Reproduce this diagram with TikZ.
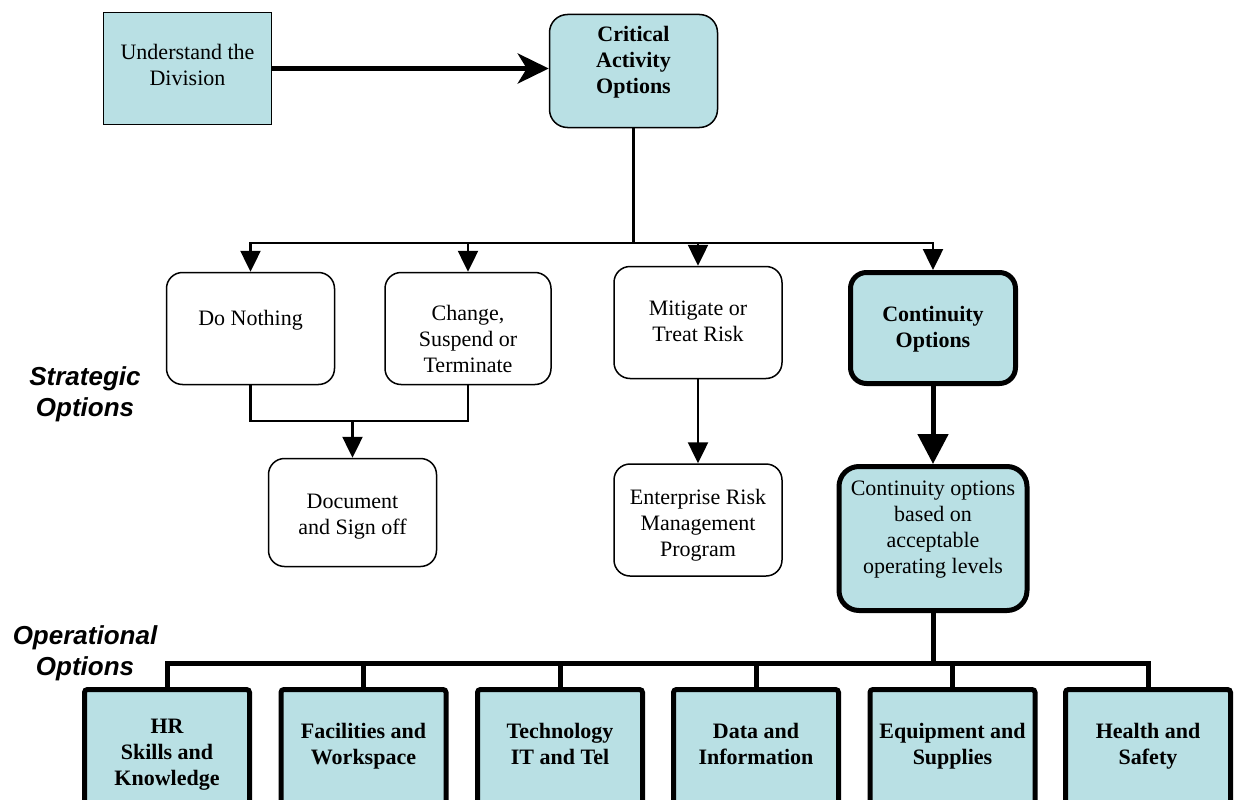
\documentclass[tikz,border=0pt]{standalone}
\usepackage{fontspec}
\setmainfont{Liberation Serif}
\newfontfamily\labfont{Liberation Sans}
\usetikzlibrary{arrows.meta}
\definecolor{boxblue}{RGB}{185,224,228}
\newcommand\bigfont{\fontsize{22}{26}\selectfont\setbox\strutbox\hbox{\vrule height 18.2pt depth 7.8pt width 0pt}}
\newcommand\labsize{\fontsize{26}{31}\selectfont\setbox\strutbox\hbox{\vrule height 21.7pt depth 9.3pt width 0pt}}
\newcommand\tx[2]{\raisebox{\dimexpr-5.6pt-(#1pt)\relax}[0pt][0pt]{\begin{tabular}{@{}c@{}}#2\end{tabular}}}
\tikzset{
  base/.style={draw, inner sep=0pt, font=\bigfont, line width=1.5pt},
  bfnt/.style={font=\bigfont\bfseries},
  sqbox/.style={base, rectangle, fill=boxblue, minimum width=168pt, minimum height=112pt},
  rbox/.style={base, rounded corners=16pt, fill=white, minimum width=168pt, minimum height=112pt},
  cbox/.style={rbox, fill=boxblue},
  opbox/.style={base, fill=boxblue, line width=5pt, rounded corners=3pt, minimum width=165pt, minimum height=125pt, font=\bigfont\bfseries},
  lab/.style={inner sep=0pt, font=\labfont\bfseries\itshape\labsize},
  conn/.style={line width=2.5pt},
  arr/.style={conn, -{Triangle[length=21pt,width=20pt]}},
  bigarr/.style={line width=5pt, -{Triangle[length=30pt,width=30pt]}},
  toparr/.style={line width=5pt, -{Stealth[length=31pt,width=30pt,inset=9pt]}},
  thickconn/.style={line width=5pt},
}
\begin{document}
\begin{tikzpicture}[x=1pt,y=-1pt]
\useasboundingbox (0,0) rectangle (1235,800);
\clip (0,0) rectangle (1235,800);

% top row
\node[sqbox] (und) at (187.5,68.5) {\tx{-2}{Understand the\\Division}};
\node[cbox, bfnt, minimum height=113pt, rounded corners=18pt] (crit) at (633.5,71) {\tx{-9}{Critical\\Activity\\Options}};

% strategic options
\node[rbox] (dn) at (250.5,328.5) {\tx{-9}{Do Nothing}};
\node[rbox, minimum width=166pt] (ch) at (468,328.5) {\tx{12}{Change,\\Suspend or\\Terminate}};
\node[rbox] (mit) at (698,322.5) {\tx{0}{Mitigate or\\Treat Risk}};
\node[cbox, bfnt, line width=5pt, minimum width=165pt, minimum height=111pt] (co) at (933,328) {\tx{1}{Continuity\\Options}};
\node[rbox, minimum height=108pt] (doc) at (352.5,512.5) {\tx{3}{Document\\and Sign off}};
\node[rbox] (ent) at (698,520) {\tx{5}{Enterprise Risk\\Management\\Program}};
\node[cbox, line width=5pt, minimum width=188pt, minimum height=144pt, rounded corners=20pt] (cb) at (933,538.5) {\tx{-10}{Continuity options\\based on\\acceptable\\operating levels}};

% operational options
\node[opbox] (hr) at (167,752) {\tx{2}{HR\\Skills and\\Knowledge}};
\node[opbox] (fac) at (363.5,752) {\tx{-6}{Facilities and\\Workspace}};
\node[opbox] (tech) at (560,752) {\tx{-6}{Technology\\IT and Tel}};
\node[opbox] (data) at (756,752) {\tx{-6}{Data and\\Information}};
\node[opbox] (equip) at (952.5,752) {\tx{-6}{Equipment and\\Supplies}};
\node[opbox] (hs) at (1148,752) {\tx{-6}{Health and\\Safety}};

% side labels
\node[lab] (strat) at (85,395) {\tx{0}{Strategic\\Options}};
\node[lab] (oper) at (85,654) {\tx{0}{Operational\\Options}};

% connectors
\draw[toparr] (und.east) -- (und.east -| crit.west);

\coordinate (j1) at (633.5,243);
\draw[conn] (crit.south) -- (j1);
\draw[arr] (j1) -| (dn.north);
\draw[arr] (j1) -| (ch.north);
\draw[arr] (j1) -| (mit.north);
\draw[arr] (j1) -| (co.north);

\coordinate (j2) at (352.5,421);
\draw[conn] (dn.south) |- (j2) -| (ch.south);
\draw[arr] (j2) -- (doc.north);

\draw[arr] (mit.south) -- (ent.north);
\draw[bigarr] (co.south) -- (cb.north);

\coordinate (j3) at (933,663);
\draw[thickconn] (cb.south) -- (j3);
\draw[thickconn] (j3) -| (hr.north);
\draw[thickconn] (j3) -| (fac.north);
\draw[thickconn] (j3) -| (tech.north);
\draw[thickconn] (j3) -| (data.north);
\draw[thickconn] (j3) -| (equip.north);
\draw[thickconn] (j3) -| (hs.north);
\end{tikzpicture}
\end{document}
